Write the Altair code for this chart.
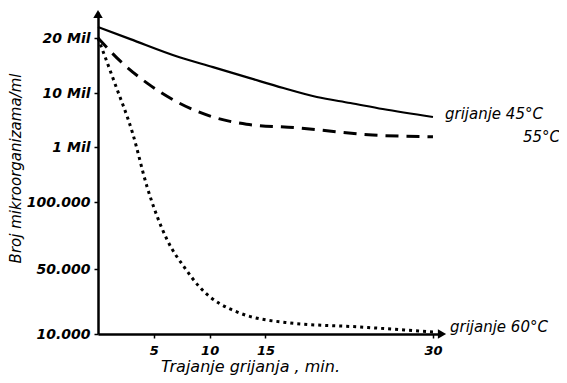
import altair as alt
import pandas as pd

# Values
minutes_45 = [0, 2.9, 7.3, 10.3, 13.6, 16.6, 19.6, 22.6, 25.5, 30]
counts_45 = [22.0e6, 19.8e6, 16.5e6, 14.7e6, 12.7e6, 10.9e6, 9.33e6, 8.33e6, 7.33e6, 6.0e6]

minutes_55 = [0, 2.2, 4.4, 7.3, 10.3, 13.3, 17.8, 24.6, 30]
counts_55 = [20e6, 15.4e6, 11.8e6, 8.3e6, 6.0e6, 4.8e6, 4.2e6, 3.0e6, 2.7e6]

minutes_60 = [0, 1.5, 3.1, 4.4, 6.2, 7.8, 9.1, 12.7, 17.2, 23.5, 30]
counts_60 = [20e6, 11.8e6, 3.3e6, 345e3, 71.6e3, 50.5e3, 38.9e3, 22.9e3, 16.8e3, 14.3e3, 11.2e3]

y_tick_values = [1e4, 5e4, 1e5, 1e6, 1e7, 2e7]
y_tick_labels = ["10.000", "50.000", "100.000", "1 Mil", "10 Mil", "20 Mil"]
x_tick_values = [5, 10, 15, 30]

label_45 = "grijanje 45°C"
label_55 = "55°C"
label_60 = "grijanje 60°C"

W, H = 342, 322
FONT = "DejaVu Sans"

label_expr = " : ".join(
    f"datum.value == {v} ? '{t}'" for v, t in zip(y_tick_values, y_tick_labels)
) + " : ''"

x_scale = alt.Scale(domain=[0, 30.63], nice=False, zero=False)
# uneven (hand-drawn) count axis: piecewise scale through the labelled ticks
y_scale = alt.Scale(domain=y_tick_values + [24.727e6],
                    range=[322, 257, 190, 135, 81, 26, 0],
                    nice=False, zero=False)

x_axis = alt.Axis(values=x_tick_values, format="d", grid=False,
                  title="Trajanje grijanja , min.", titleX=152, titleY=37,
                  titleAlign="center", titleBaseline="alphabetic",
                  titleFont=FONT, titleFontSize=16, titleFontStyle="italic",
                  titleFontWeight="normal", titleColor="black",
                  labelFont=FONT, labelFontSize=13, labelFontStyle="italic",
                  labelFontWeight="bold", labelColor="black", labelPadding=6,
                  domainColor="black", domainWidth=2.5,
                  tickColor="black", tickSize=4, tickWidth=1.5)
y_axis = alt.Axis(values=y_tick_values, labelExpr=label_expr, grid=False,
                  title="Broj mikroorganizama/ml", titleX=-83, titleY=156,
                  titleAngle=270, titleAlign="center", titleBaseline="middle",
                  titleFont=FONT, titleFontSize=15, titleFontStyle="italic",
                  titleFontWeight="normal", titleColor="black",
                  labelFont=FONT, labelFontSize=14, labelFontStyle="italic",
                  labelFontWeight="bold", labelColor="black", labelPadding=4,
                  domainColor="black", domainWidth=2.5,
                  tickColor="black", tickSize=4, tickWidth=1.5)

df45 = pd.DataFrame({"min": minutes_45, "count": counts_45})
df55 = pd.DataFrame({"min": minutes_55, "count": counts_55})
df60 = pd.DataFrame({"min": minutes_60, "count": counts_60})

def line(df, dash, width):
    kw = dict(color="black", strokeWidth=width, interpolate="monotone")
    if dash:
        kw["strokeDash"] = dash
    return alt.Chart(df).mark_line(**kw).encode(
        x=alt.X("min:Q", scale=x_scale, axis=x_axis),
        y=alt.Y("count:Q", scale=y_scale, axis=y_axis),
    )

l45 = line(df45, None, 2.2)
l55 = line(df55, [13, 8], 3)
l60 = line(df60, [3, 4], 3)

def label(text, xv, yv, dx, dy, align):
    d = pd.DataFrame({"min": [xv], "count": [yv], "t": [text]})
    return alt.Chart(d).mark_text(align=align, baseline="middle", dx=dx, dy=dy,
                                  font=FONT, fontSize=15, fontStyle="italic",
                                  color="black").encode(
        x=alt.X("min:Q", scale=x_scale, axis=x_axis),
        y=alt.Y("count:Q", scale=y_scale, axis=y_axis),
        text="t:N",
    )

t45 = label(label_45, minutes_45[-1], counts_45[-1], 12, -3, "left")
t55 = label(label_55, minutes_55[-1], counts_55[-1], 127, 0, "right")
t60 = label(label_60, minutes_60[-1], counts_60[-1], 17, -5, "left")

one = pd.DataFrame({"a": [0]})
arrow_up = alt.Chart(one).mark_point(shape="triangle-up", filled=True, size=90,
                                     color="black", opacity=1).encode(
    x=alt.value(0), y=alt.value(2))
arrow_right = alt.Chart(one).mark_point(shape="triangle-right", filled=True, size=90,
                                        color="black", opacity=1).encode(
    x=alt.value(W + 2), y=alt.value(H))

chart = alt.layer(l45, l55, l60, t45, t55, t60, arrow_up, arrow_right).properties(
    width=W, height=H,
    autosize=alt.AutoSizeParams(type="none"),
    padding={"left": 90, "top": 4, "right": 119, "bottom": 42},
    background="white",
).configure_view(stroke=None)

chart.save("out.html", embed_options={"renderer": "svg", "actions": False})
